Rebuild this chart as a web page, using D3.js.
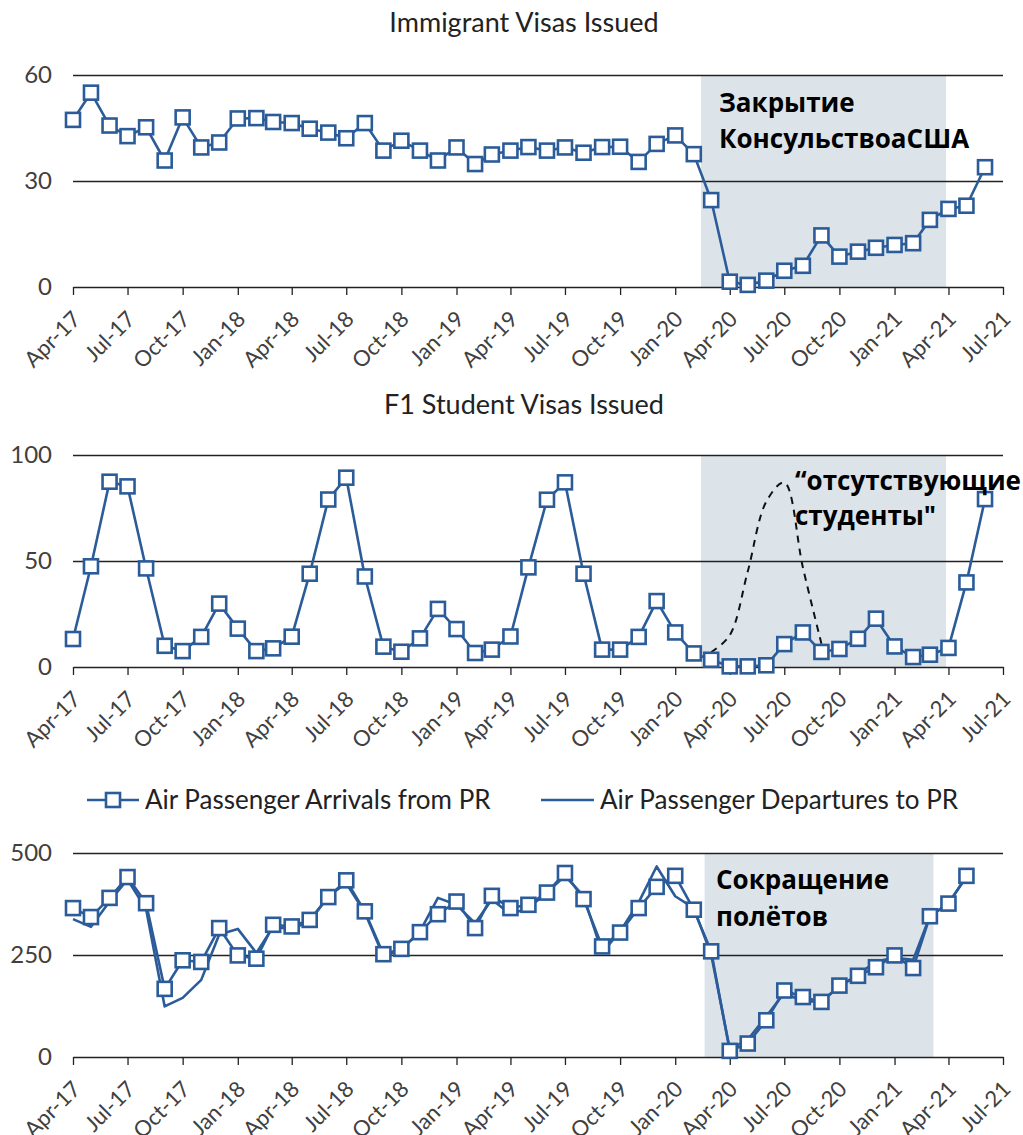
<!DOCTYPE html>
<html>
<head>
<meta charset="utf-8">
<script src="https://cdn.jsdelivr.net/npm/d3@7"></script>
<style>
  body { margin: 0; background: #fff; }
  svg text { font-family: Lato, "Open Sans", sans-serif; }
  .note { font-family: "Open Sans", "Noto Sans", sans-serif !important; font-weight: bold; }
</style>
</head>
<body>
<div id="chart"></div>
<script>
// data, monthly from Apr-17
const startMonth = '2017-04';
const immigrantVisas = [47.3, 55, 45.7, 42.7, 45.2, 35.8, 48, 39.5, 40.9, 47.7,
  47.8, 46.7, 46.4, 44.8, 43.7, 42.1, 46.4, 38.6, 41.4, 38.6,
  35.8, 39.5, 34.8, 37.5, 38.6, 39.6, 38.6, 39.5, 38, 39.6,
  39.7, 35.4, 40.5, 42.9, 37.6, 24.6, 1.5, 0.6, 1.8, 4.6,
  6, 14.6, 8.6, 10, 11.1, 11.9, 12.4, 19, 22.1, 23, 33.9];
const f1Visas = [13.2, 47.5, 87.4, 85.2, 46.5, 10, 7.5, 14.2, 29.9, 18.1,
  7.5, 8.8, 14.3, 44, 79, 89.3, 42.7, 9.6, 7.2, 13.5,
  27.4, 17.9, 6.6, 8.2, 14.4, 47, 78.9, 87.1, 44, 8.2,
  8.2, 14.2, 31.1, 16.3, 6.4, 3.4, 0.3, 0.3, 0.8, 10.8,
  16.3, 7.1, 8.5, 13.3, 22.8, 9.7, 4.7, 5.8, 9, 39.9, 79.2];
// "missing students" dashed curve
const missingMonths = ['2020-03', '2020-04', '2020-05', '2020-06', '2020-07', '2020-08', '2020-09'];
const missingValues = [7, 15, 45, 78, 87, 47, 11];
const arrivals = [365, 343, 390, 441, 377, 167, 237, 233, 316, 249,
  241, 324, 320, 336, 392, 433, 357, 252, 265, 306,
  350, 381, 316, 395, 365, 373, 403, 451, 387, 271,
  305, 365, 417, 444, 361, 259, 15, 33, 90, 163,
  147, 135, 175, 199, 220, 249, 218, 345, 376, 444];
const departures = [338, 319, 381, 435, 362, 124, 145, 189, 300, 314,
  255, 319, 314, 332, 394, 426, 354, 247, 263, 308,
  390, 373, 328, 386, 350, 365, 403, 444, 395, 256,
  308, 379, 467, 394, 365, 251, 20, 42, 100, 157,
  136, 136, 173, 202, 234, 243, 238, 345, 377, 441];
const titles = ['Immigrant Visas Issued', 'F1 Student Visas Issued'];
const yTicksTop = [0, 30, 60];
const yTicksMid = [0, 50, 100];
const yTicksBot = [0, 250, 500];
const legendLabels = ['Air Passenger Arrivals from PR', 'Air Passenger Departures to PR'];
const shadeTop = ['2020-02-13', '2021-03-28'];
const shadeBot = ['2020-02-19', '2021-03-07'];
const notesTop = ['Закрытие', 'КонсульствоаСША'];
const notesMid = ['\u201cотсутствующие', 'студенты"'];
const notesBot = ['Сокращение', 'полётов'];

const W = 1023, H = 1135;
const blue = '#2b5c99';
const shade = '#dce4ea';
const parseM = d3.timeParse('%Y-%m');
const parseD = d3.timeParse('%Y-%m-%d');
const t0 = parseM(startMonth);
const monthOf = i => d3.timeMonth.offset(t0, i);

const x = d3.scaleTime()
  .domain([t0, parseM('2021-07')])
  .range([73, 1003]);
const quarters = d3.timeMonth.every(3).range(t0, d3.timeMonth.offset(parseM('2021-07'), 1));

const svg = d3.select('#chart').append('svg')
  .attr('width', W)
  .attr('height', H);

function panel(top, bottom, ticks, shadeRange){
  const y = d3.scaleLinear().domain([0, ticks[ticks.length-1]]).range([bottom, top]);
  const g = svg.append('g');

  //shaded period
  g.append('rect')
    .attr('x', x(parseD(shadeRange[0])))
    .attr('width', x(parseD(shadeRange[1])) - x(parseD(shadeRange[0])))
    .attr('y', y(ticks[ticks.length-1]))
    .attr('height', y(0) - y(ticks[ticks.length-1]))
    .attr('fill', shade);

  //grid + y labels
  const axisY = d3.axisLeft(y)
    .tickValues(ticks)
    .tickSize(-(x.range()[1] - x.range()[0]))
    .tickPadding(21);
  g.append('g')
    .attr('transform', `translate(${x.range()[0]},0)`)
    .call(axisY)
    .call(s => s.select('.domain').remove())
    .call(s => s.selectAll('.tick line').attr('stroke', '#222').attr('stroke-width', 1.3)
      .filter(d => d === 0).remove())
    .call(s => s.selectAll('.tick text').attr('fill', '#404040').style('font-size', '24px'));

  //x axis
  const axisX = d3.axisBottom(x)
    .tickValues(quarters)
    .tickFormat(d3.timeFormat('%b-%y'))
    .tickSize(8)
    .tickSizeOuter(0);
  g.append('g')
    .attr('class', 'x-axis')
    .attr('transform', `translate(0,${y(0)})`)
    .call(axisX)
    .call(s => s.select('.domain').attr('stroke', '#222').attr('stroke-width', 1.3))
    .call(s => s.selectAll('.tick line').attr('stroke', '#222').attr('stroke-width', 1.3))
    .call(s => s.selectAll('.tick text')
      .attr('fill', '#404040')
      .style('font-size', '22px')
      .attr('text-anchor', 'end')
      .attr('y', 0).attr('dy', '0.35em')
      .attr('transform', 'translate(3,28) rotate(-45)'));

  const plot = g.append('g');
  return {y, plot, g};
}

function drawLine(p, values, markers){
  const line = d3.line()
    .x((d, i) => x(monthOf(i)))
    .y(d => p.y(d));
  p.plot.append('path')
    .attr('d', line(values))
    .attr('fill', 'none')
    .attr('stroke', blue)
    .attr('stroke-width', 2.6)
    .attr('stroke-linejoin', 'round');
  if(markers){
    p.plot.selectAll(null)
      .data(values)
      .join('rect')
      .attr('x', (d, i) => x(monthOf(i)) - 7)
      .attr('y', d => p.y(d) - 7)
      .attr('width', 14)
      .attr('height', 14)
      .attr('fill', '#fff')
      .attr('stroke', blue)
      .attr('stroke-width', 2.6);
  }
}

function notes(lines, x0, y0, gap, size){
  svg.append('g').selectAll('text')
    .data(lines)
    .join('text')
    .attr('class', 'note')
    .attr('x', x0)
    .attr('y', (d, i) => y0 + i*gap)
    .style('font-size', size + 'px')
    .attr('fill', '#000')
    .text(d => d);
}

function title(txt, yy){
  svg.append('text')
    .attr('x', 524)
    .attr('y', yy)
    .attr('text-anchor', 'middle')
    .style('font-size', '27px')
    .attr('fill', '#222')
    .text(txt);
}

// top
title(titles[0], 32);
const pTop = panel(75, 287, yTicksTop, shadeTop);
drawLine(pTop, immigrantVisas, true);
notes(notesTop, 719, 112, 36, 26);

// middle
title(titles[1], 414);
const pMid = panel(455, 667, yTicksMid, shadeTop);
pMid.plot.append('path')
  .attr('d', d3.line()
    .x((d, i) => x(parseM(missingMonths[i])))
    .y(d => pMid.y(d))
    .curve(d3.curveCatmullRom.alpha(0.5))(missingValues))
  .attr('fill', 'none')
  .attr('stroke', '#111')
  .attr('stroke-width', 2)
  .attr('stroke-dasharray', '7,6');
drawLine(pMid, f1Visas, true);
notes(notesMid, 795, 490, 35, 26);

// bottom
const pBot = panel(853, 1057, yTicksBot, shadeBot);
drawLine(pBot, departures, false);
drawLine(pBot, arrivals, true);
notes(notesBot, 716, 889, 37, 26);

// legend
const legend = svg.append('g').attr('transform', 'translate(0,800)');
const legItems = [{x0: 87, x1: 139, marker: true}, {x0: 541, x1: 594, marker: false}];
legItems.forEach((it, i) => {
  legend.append('line')
    .attr('x1', it.x0).attr('x2', it.x1)
    .attr('stroke', blue).attr('stroke-width', 2.6);
  if(it.marker){
    legend.append('rect')
      .attr('x', (it.x0 + it.x1)/2 - 7).attr('y', -7)
      .attr('width', 14).attr('height', 14)
      .attr('fill', '#fff').attr('stroke', blue).attr('stroke-width', 2.6);
  }
  legend.append('text')
    .attr('x', it.x1 + 6)
    .attr('y', 0)
    .attr('dy', '0.35em')
    .style('font-size', '26px')
    .attr('fill', '#222')
    .text(legendLabels[i]);
});
</script>
</body>
</html>
